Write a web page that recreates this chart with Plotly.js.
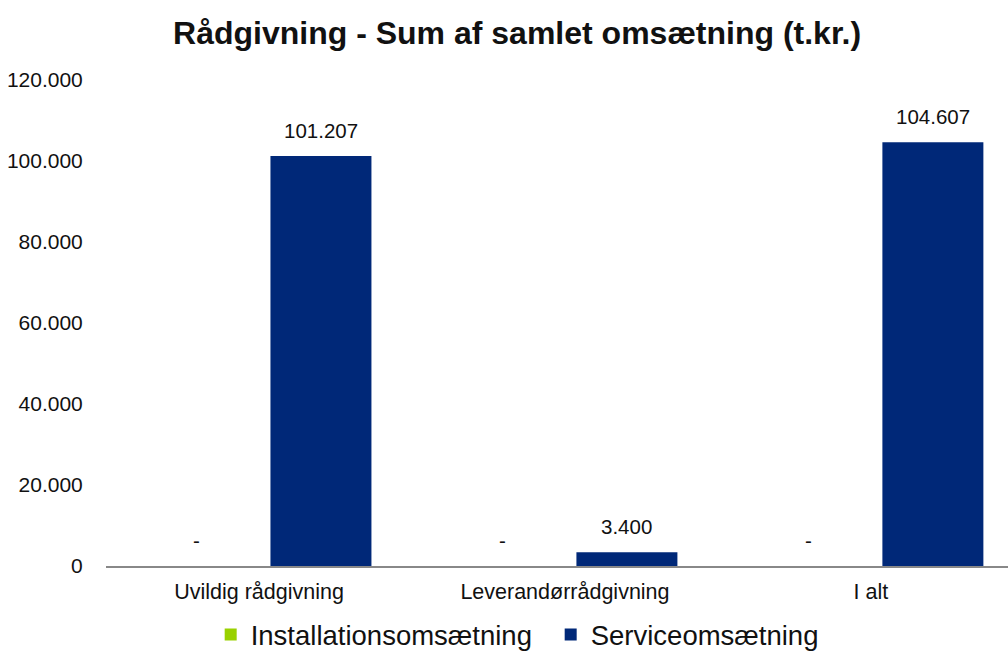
<!DOCTYPE html>
<html><head><meta charset="utf-8">
<script src="https://cdn.plot.ly/plotly-3.0.1.min.js"></script>
<style>html,body{margin:0;padding:0;background:#fff}#c{width:1008px;height:654px}</style>
</head><body><div id="c"></div>
<script>
const categories = ["Uvildig rådgivning", "Leverandørrådgivning", "I alt"];
const installation = [0, 0, 0];
const service = [101207, 3400, 104607];
const yTicks = [0, 20000, 40000, 60000, 80000, 100000, 120000];

function lbl(x){ return x === 0 ? "-" : x.toLocaleString("da-DK"); }

const FONT = "Liberation Sans, Arial, Helvetica";
const traces = [
  {type:"bar", name:"Installationsomsætning", x:categories, y:installation, marker:{color:"#99D100"}},
  {type:"bar", name:"Serviceomsætning", x:categories, y:service, marker:{color:"#002878"}}
];

const annotations = [];
categories.forEach((c, i) => {
  annotations.push({x:c, y:installation[i], text:lbl(installation[i]), showarrow:false, yanchor:"bottom",
                    xshift:-62, yshift:12, font:{size:20.5, color:"#111", family:FONT}});
  annotations.push({x:c, y:service[i], text:lbl(service[i]), showarrow:false, yanchor:"bottom",
                    xshift:62, yshift:12, font:{size:20.5, color:"#111", family:FONT}});
});

const layout = {
  width:1008, height:654,
  margin:{l:106, r:0, t:80, b:88, autoexpand:false},
  font:{family:FONT, size:20, color:"#111"},
  title:{text:"<b>Rådgivning - Sum af samlet omsætning (t.kr.)</b>", x:0.513, xanchor:"center", y:0.95, yanchor:"middle",
         font:{size:32, color:"#111"}},
  barmode:"group", bargap:0.19, bargroupgap:0.185,
  xaxis:{range:[-0.5, 2.448], showline:true, linecolor:"#888", linewidth:2, ticks:"",
         tickfont:{size:21.5}, showgrid:false, ticklabelstandoff:5},
  yaxis:{range:[0,120000], tickvals:yTicks, ticktext:yTicks.map(v=>v.toLocaleString("da-DK")),
         showgrid:false, zeroline:false, showline:false, ticks:"outside", ticklen:18, tickcolor:"rgba(0,0,0,0)", tickfont:{size:21}},
  annotations: annotations,
  showlegend:true,
  legend:{orientation:"h", x:0.493, xanchor:"center", y:-0.091, yanchor:"top", font:{size:27.5, color:"#111"},
          itemwidth:30, entrywidth:295, entrywidthmode:"pixels"},
  plot_bgcolor:"#fff", paper_bgcolor:"#fff"
};
Plotly.newPlot("c", traces, layout, {displayModeBar:false});
</script></body></html>
